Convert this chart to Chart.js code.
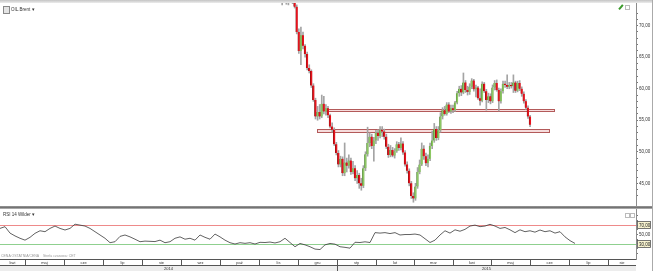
<!DOCTYPE html>
<html>
<head>
<meta charset="utf-8">
<script src="https://cdn.jsdelivr.net/npm/chart.js@4.4.0/dist/chart.umd.min.js"></script>
<style>
    body { margin: 0; background: #fff; font-family: "Liberation Sans", Arial, sans-serif; }
    #wrap { position: relative; width: 653px; height: 271px; overflow: hidden; background: #fff; }
    #topbar { position: absolute; left: 0; top: 0; width: 653px; height: 3px; background: linear-gradient(#c4c4c4, #ececec); }
    #priceChart { position: absolute; left: 0; top: 0; }
    #sep { position: absolute; left: 0; top: 206px; width: 653px; height: 3px; background: linear-gradient(#9a9a9a, #6c6c6c 60%, #d0d0d0); }
    #rsiChart { position: absolute; left: 0; top: 209px; }
    .lbl { position: absolute; font-size: 4.5px; color: #333; white-space: nowrap; line-height: 5px; }
    .icon { position: absolute; width: 5px; height: 6px; border: 1px solid #888; background: #e4e4e4; }
    .pen { position: absolute; width: 1.5px; height: 6px; background: #3a9a2a; transform: rotate(40deg); }
    .sq { position: absolute; width: 3px; height: 3px; border: 1px solid #bbb; }
    #rightEdge { position: absolute; left: 652px; top: 0; width: 1px; height: 271px; background: #aaa; }
</style>
</head>
<body>
<div id="wrap">
    <canvas id="priceChart" width="653" height="207"></canvas>
    <canvas id="rsiChart" width="653" height="62"></canvas>
    <div id="topbar"></div>
    <div id="sep"></div>
    <div id="rightEdge"></div>
    <div class="icon" style="left:3px;top:6px"></div>
    <div class="lbl" style="left:11px;top:7px;">OIL.Brent &#9662;</div>
    <div class="pen" style="left:620px;top:4px"></div>
    <div class="sq" style="left:625px;top:5px"></div>
    <div class="lbl" style="left:3px;top:212px;">RSI 14 Wilder &#9662;</div>
    <div class="sq" style="left:625px;top:213px"></div>
    <div class="sq" style="left:630px;top:213px"></div>
    <div class="lbl" style="left:1px;top:254px;font-size:3.5px;color:#999;">CENA OSTATNIA/CENA &nbsp;&nbsp; Strefa czasowa: CET</div>
</div>
<script>
// Price candles (one per bar, starting at bar 110)
const firstBar = 110;
const openP = [74.8, 74.2, 74.6, 74.0, 74.3, 74.0, 73.8, 73.0, 69.0, 66.0,
    68.5, 66.8, 65.5, 63.3, 62.8, 60.5, 58.2, 55.6, 56.3, 55.6,
    57.6, 56.4, 56.9, 55.8, 54.0, 53.5, 51.2, 49.8, 48.0, 48.9,
    46.6, 48.3, 47.8, 48.6, 46.8, 47.4, 45.8, 46.3, 45.0, 44.6,
    47.4, 49.6, 51.4, 52.4, 50.9, 51.8, 53.0, 52.5, 53.5, 53.2,
    52.4, 50.8, 49.5, 50.3, 49.4, 50.1, 51.2, 50.6, 51.3, 49.9,
    48.0, 47.0, 45.0, 43.0, 42.6, 44.5, 46.8, 48.0, 50.5, 49.3,
    48.2, 48.9, 50.9, 51.8, 53.6, 52.2, 53.4, 55.6, 56.6, 56.0,
    57.5, 56.4, 56.9, 56.6, 57.8, 59.3, 60.0, 59.4, 61.0, 59.8,
    59.5, 60.3, 61.3, 59.9, 60.2, 58.5, 58.1, 60.8, 59.6, 58.2,
    58.8, 58.0, 60.2, 60.9, 59.8, 58.0, 59.6, 60.8, 60.6, 60.3,
    60.6, 60.4, 61.0, 59.7, 60.9, 60.0, 59.2, 58.0, 57.0, 55.6];
const highP = [75.0, 75.2, 75.0, 74.8, 74.6, 74.3, 74.2, 73.3, 69.5, 69.8,
    69.0, 67.0, 65.8, 63.8, 63.0, 60.8, 58.5, 57.2, 57.5, 59.0,
    58.8, 57.5, 57.2, 56.0, 54.6, 53.8, 51.5, 50.2, 49.3, 49.2,
    51.4, 49.0, 49.5, 49.0, 48.5, 47.8, 47.0, 46.6, 45.8, 47.8,
    50.0, 53.9, 53.0, 52.8, 52.3, 53.4, 53.5, 54.0, 54.0, 53.6,
    52.8, 51.2, 51.0, 50.7, 50.5, 51.6, 51.5, 52.2, 51.6, 50.2,
    48.4, 47.3, 45.3, 43.5, 45.0, 47.5, 48.7, 51.4, 51.0, 49.8,
    49.5, 51.4, 53.3, 54.5, 54.0, 54.0, 56.2, 57.0, 57.2, 57.8,
    57.8, 57.4, 57.4, 58.0, 59.6, 60.4, 60.5, 62.5, 61.3, 60.4,
    60.8, 61.6, 61.5, 60.6, 60.4, 60.0, 61.1, 61.0, 59.9, 59.3,
    59.2, 60.6, 61.3, 61.4, 60.1, 60.0, 61.2, 61.2, 62.2, 61.0,
    61.0, 62.2, 61.2, 61.2, 61.3, 60.3, 59.5, 58.3, 57.3, 55.8];
const lowP = [73.3, 73.8, 73.4, 73.3, 73.7, 73.5, 72.8, 68.7, 65.6, 63.8,
    66.3, 65.0, 63.0, 62.5, 60.2, 58.0, 55.2, 55.0, 55.2, 55.4,
    56.0, 55.8, 55.4, 53.8, 53.1, 51.0, 49.5, 47.6, 47.6, 46.2,
    46.2, 46.8, 47.4, 46.4, 46.5, 45.4, 45.0, 44.2, 43.9, 44.3,
    47.0, 49.3, 50.8, 50.5, 48.5, 51.3, 51.8, 52.2, 52.4, 52.0,
    50.5, 49.1, 49.2, 49.2, 49.0, 49.9, 50.2, 50.3, 49.6, 47.7,
    46.6, 44.6, 42.6, 42.0, 42.3, 44.2, 46.5, 47.8, 48.8, 47.8,
    47.6, 48.6, 50.5, 51.5, 51.8, 51.9, 53.1, 55.2, 55.8, 55.8,
    56.2, 56.1, 56.2, 56.4, 57.6, 58.8, 58.9, 59.2, 59.4, 59.0,
    59.1, 60.0, 59.6, 58.7, 58.3, 57.4, 57.9, 59.4, 56.6, 57.8,
    57.6, 57.8, 59.8, 59.6, 56.5, 57.7, 59.3, 60.2, 60.0, 60.0,
    60.1, 59.4, 59.4, 59.5, 59.7, 58.8, 57.7, 56.7, 55.3, 54.0];
const closeP = [74.2, 74.6, 74.0, 74.3, 74.0, 73.8, 73.0, 69.0, 66.0, 68.5,
    66.8, 65.5, 63.3, 62.8, 60.5, 58.2, 55.6, 56.3, 55.6, 57.6,
    56.4, 56.9, 55.8, 54.0, 53.5, 51.2, 49.8, 48.0, 48.9, 46.6,
    48.3, 47.8, 48.6, 46.8, 47.4, 45.8, 46.3, 45.0, 44.6, 47.4,
    49.6, 51.4, 52.4, 50.9, 51.8, 53.0, 52.5, 53.5, 53.2, 52.4,
    50.8, 49.5, 50.3, 49.4, 50.1, 51.2, 50.6, 51.3, 49.9, 48.0,
    47.0, 45.0, 43.0, 42.6, 44.5, 46.8, 48.0, 50.5, 49.3, 48.2,
    48.9, 50.9, 51.8, 53.6, 52.2, 53.4, 55.6, 56.6, 56.0, 57.5,
    56.4, 56.9, 56.6, 57.8, 59.3, 60.0, 59.4, 61.0, 59.8, 59.5,
    60.3, 61.3, 59.9, 60.2, 58.5, 58.1, 60.8, 59.6, 58.2, 58.8,
    58.0, 60.2, 60.9, 59.8, 58.0, 59.6, 60.8, 60.6, 60.3, 60.6,
    60.4, 61.0, 59.7, 60.9, 60.0, 59.2, 58.0, 57.0, 55.6, 54.3];

// RSI 14 (Wilder), one value every 2 bars from bar 0
const rsiStep = 2;
const rsiValues = [63, 66.7, 53, 47, 42, 38, 44, 52.5, 58, 56,
    63, 68, 63, 59.6, 63, 72, 70, 68, 63, 56,
    49, 42, 32.6, 34.7, 46, 49, 45, 40, 34.7, 36,
    35.5, 35, 38, 32.6, 34.7, 42, 45, 40, 42, 38,
    49, 44, 40, 51, 45, 38, 32.6, 29.8, 32.6, 31.2,
    32.6, 29.8, 33.4, 33, 34, 32, 34.7, 42, 33, 24,
    31, 28, 24, 19, 18, 28, 31, 29.5, 24, 22.7,
    21, 33.5, 33, 34.5, 33, 54, 53, 54, 52, 54,
    49, 50, 50, 51, 49, 41, 33, 38, 49, 58,
    53, 60, 57, 61, 68, 70, 66.7, 68, 71.7, 68,
    63, 65, 60, 54, 60, 56, 58, 55, 59.6, 56,
    58, 53, 56, 45, 37, 31];

// Support zones (bars / price)
const zoneFrom = [130.8, 126.8];
const zoneTo = [240.4, 238.0];
const zoneHigh = [56.86, 53.6];
const zoneLow = [56.46, 53.17];

// Time axis
const xMax = 254.4;
const monthStarts = [10, 25.6, 41.2, 56.8, 72.4, 88, 103.6, 119.2, 134.8, 150.4, 165.6, 181.2, 196.4, 212, 227.6, 243.2];
const monthLabels = ['kwi', 'maj', 'cze', 'lip', 'sie', 'wrz', 'paź', 'lis', 'gru', 'sty', 'lut', 'mar', 'kwi', 'maj', 'cze', 'lip', 'sie'];
const yearStarts = [0, 134.8];
const yearLabels = ['2014', '2015'];

// Axis labels
const priceMajor = [45, 50, 55, 60, 65, 70];
const rsiMajor = [0, 50, 100];
const rsiLevels = [70, 30];
const rsiLevelColors = ['#ee8a8a', '#8fd08f'];

const RED = '#e8121c';
const GREEN = '#8cc862';
const fmt = v => v.toFixed(2).replace('.', ',');
const axisFont = { family: 'Liberation Sans', size: 4.5 };

function rightAxis(min, max, step, labelFn) {
    return {
        position: 'right',
        min: min,
        max: max,
        afterFit: s => { s.width = 17; s.paddingTop = 0; s.paddingBottom = 0; },
        afterBuildTicks: s => {
            s.ticks = s.ticks.filter(t => Math.abs(t.value / step - Math.round(t.value / step)) < 1e-6 && t.value >= 0);
        },
        ticks: { stepSize: step, autoSkip: false, maxRotation: 0, padding: 1, color: '#333', font: axisFont, callback: labelFn },
        grid: { drawOnChartArea: false, tickLength: 2, tickColor: '#777' },
        border: { color: '#8c8c8c' }
    };
}

// Candle bodies / wicks
const bodies = openP.map((o, i) => ({ x: firstBar + i, y: [o, closeP[i]] }));
const wicks = lowP.map((l, i) => ({ x: firstBar + i, y: [l, highP[i]] }));

const zonePlugin = {
    id: 'zones',
    beforeDatasetsDraw(chart) {
        const { ctx, chartArea, scales } = chart;
        ctx.save();
        ctx.beginPath();
        ctx.rect(chartArea.left, chartArea.top, chartArea.right - chartArea.left, chartArea.bottom - chartArea.top);
        ctx.clip();
        zoneFrom.forEach((f, i) => {
            const x1 = Math.round(scales.x.getPixelForValue(f)) + 0.5;
            const x2 = Math.round(scales.x.getPixelForValue(zoneTo[i])) + 0.5;
            const y1 = Math.round(scales.y.getPixelForValue(zoneHigh[i])) + 0.5;
            const y2 = Math.round(scales.y.getPixelForValue(zoneLow[i])) + 0.5;
            ctx.fillStyle = '#f6dcdc';
            ctx.fillRect(x1, y1, x2 - x1, y2 - y1);
            ctx.strokeStyle = '#b35a5a';
            ctx.lineWidth = 1;
            ctx.strokeRect(x1, y1, x2 - x1, y2 - y1);
        });
        ctx.restore();
    }
};

new Chart(document.getElementById('priceChart'), {
    type: 'bar',
    data: {
        datasets: [{
            data: bodies,
            order: 0,
            grouped: false,
            barThickness: 2,
            minBarLength: 1,
            borderWidth: { left: 0.6, right: 0, top: 0, bottom: 0 },
            borderSkipped: false,
            borderColor: ctx => closeP[ctx.dataIndex] >= openP[ctx.dataIndex] ? '#4d7f33' : '#7c0c0c',
            backgroundColor: ctx => closeP[ctx.dataIndex] >= openP[ctx.dataIndex] ? GREEN : RED
        }, {
            data: wicks,
            order: 1,
            grouped: false,
            barThickness: 1,
            backgroundColor: '#a4a4a4'
        }]
    },
    options: {
        responsive: false,
        animation: false,
        layout: { padding: { top: 3, bottom: 1, left: 0, right: 0 } },
        plugins: { legend: { display: false }, tooltip: { enabled: false } },
        scales: {
            x: { type: 'linear', min: 0, max: xMax, display: false },
            y: rightAxis(41.4, 73.6, 1, v => priceMajor.includes(v) ? fmt(v) : '')
        }
    },
    plugins: [zonePlugin]
});

const rsiPlugin = {
    id: 'rsiExtras',
    beforeDatasetsDraw(chart) {
        const { ctx, chartArea, scales } = chart;
        ctx.save();
        rsiLevels.forEach((lv, i) => {
            const y = Math.round(scales.y.getPixelForValue(lv)) + 0.5;
            ctx.strokeStyle = rsiLevelColors[i];
            ctx.lineWidth = 1;
            ctx.beginPath();
            ctx.moveTo(chartArea.left, y);
            ctx.lineTo(chartArea.right, y);
            ctx.stroke();
        });
        ctx.restore();
    },
    afterDraw(chart) {
        const { ctx, chartArea, scales } = chart;
        ctx.save();
        // level boxes on the axis
        ctx.font = '4.5px "Liberation Sans"';
        ctx.textBaseline = 'middle';
        rsiLevels.forEach(lv => {
            const y = Math.round(scales.y.getPixelForValue(lv));
            ctx.fillStyle = '#f8f3cf';
            ctx.fillRect(chartArea.right + 1.5, y - 3.5, 13, 7);
            ctx.strokeStyle = '#555';
            ctx.lineWidth = 0.8;
            ctx.strokeRect(chartArea.right + 1.5, y - 3.5, 13, 7);
            ctx.fillStyle = '#222';
            ctx.textAlign = 'left';
            ctx.fillText(fmt(lv), chartArea.right + 3, y + 0.3);
        });

        // month / year strip under the panel
        const top = Math.round(chartArea.bottom) + 0.5;
        const right = chartArea.right;
        const xs = scales.x;
        ctx.fillStyle = '#fff';
        ctx.fillRect(0, top, right, 6);
        ctx.fillStyle = '#ededed';
        ctx.fillRect(0, top + 6, right, 7);
        ctx.strokeStyle = '#555';
        ctx.lineWidth = 1;
        ctx.beginPath();
        ctx.moveTo(0, top); ctx.lineTo(right, top);
        ctx.moveTo(0, top + 6); ctx.lineTo(right, top + 6);
        monthStarts.forEach(m => {
            const x = Math.round(xs.getPixelForValue(m)) + 0.5;
            ctx.moveTo(x, top); ctx.lineTo(x, top + 6);
        });
        yearStarts.slice(1).forEach(m => {
            const x = Math.round(xs.getPixelForValue(m)) + 0.5;
            ctx.moveTo(x, top + 6); ctx.lineTo(x, top + 13);
        });
        ctx.stroke();

        ctx.fillStyle = '#333';
        ctx.textAlign = 'center';
        ctx.font = '4px "Liberation Sans"';
        const edges = [0].concat(monthStarts, [xMax]);
        monthLabels.forEach((lab, i) => {
            const cx = (xs.getPixelForValue(edges[i]) + xs.getPixelForValue(edges[i + 1])) / 2;
            ctx.fillText(lab, cx, top + 3.2);
        });
        const yEdges = yearStarts.concat([xMax]);
        yearLabels.forEach((lab, i) => {
            const cx = (xs.getPixelForValue(yEdges[i]) + xs.getPixelForValue(yEdges[i + 1])) / 2;
            ctx.fillText(lab, cx, top + 9.5);
        });
        ctx.restore();
    }
};

new Chart(document.getElementById('rsiChart'), {
    type: 'line',
    data: {
        datasets: [{
            data: rsiValues.map((v, i) => ({ x: i * rsiStep, y: v })),
            borderColor: '#3a3a3a',
            borderWidth: 0.8,
            pointRadius: 0,
            tension: 0
        }]
    },
    options: {
        responsive: false,
        animation: false,
        layout: { padding: { top: 0, bottom: 12, left: 0, right: 0 } },
        plugins: { legend: { display: false }, tooltip: { enabled: false } },
        scales: {
            x: { type: 'linear', min: 0, max: xMax, display: false },
            y: rightAxis(-2.1, 104.3, 10, v => rsiMajor.includes(v) ? fmt(v) : '')
        }
    },
    plugins: [rsiPlugin]
});
</script>
</body>
</html>
